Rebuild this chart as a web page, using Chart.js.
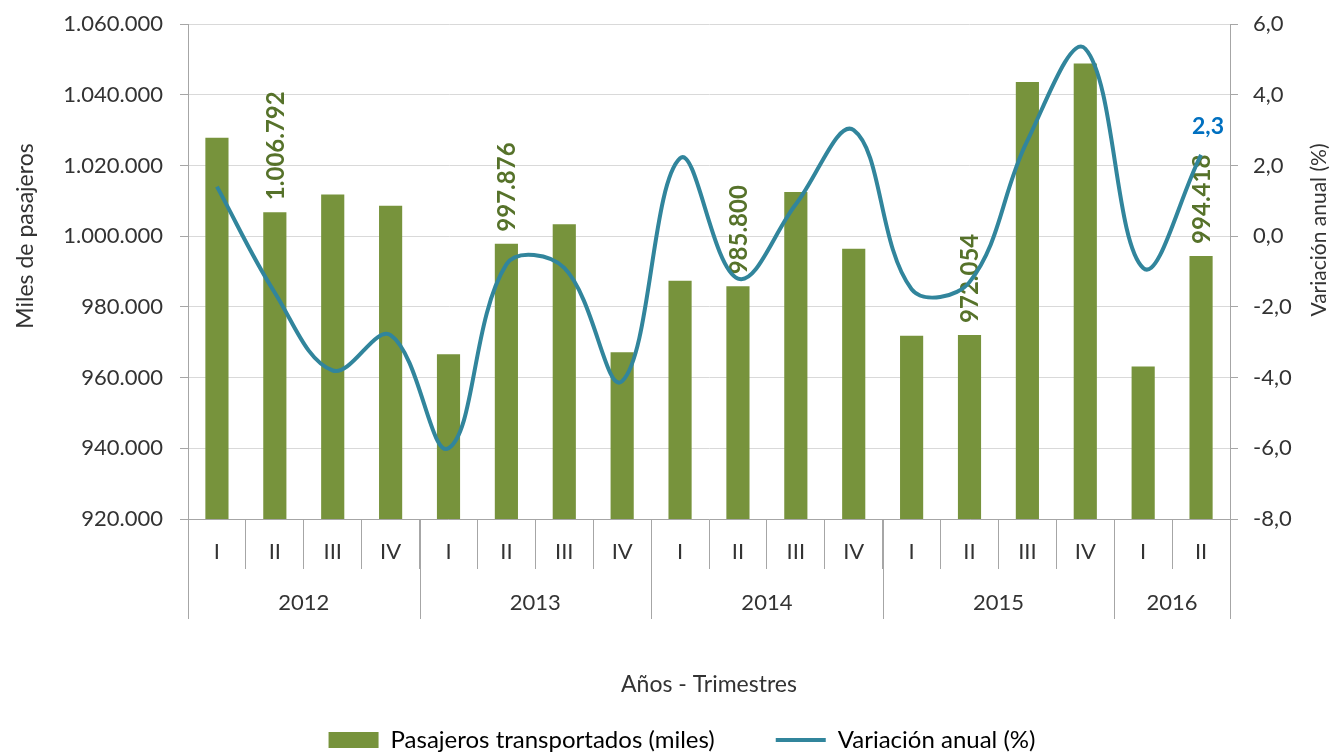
<!DOCTYPE html>
<html lang="es">
<head>
<meta charset="utf-8">
<title>Pasajeros transportados</title>
<script src="https://cdn.jsdelivr.net/npm/chart.js@4.4.1/dist/chart.umd.min.js"></script>
<style>
    html, body { margin: 0; padding: 0; background: #fff; overflow: hidden; }
    #wrap { width: 1330px; height: 753px; overflow: hidden; }
    canvas { display: block; }
</style>
</head>
<body>
<div id="wrap"><canvas id="pasajeros_chart" width="1364" height="762"></canvas></div>
<script>
/* =========================
   Data
========================= */
const quarters = ['I', 'II', 'III', 'IV', 'I', 'II', 'III', 'IV', 'I', 'II', 'III', 'IV', 'I', 'II', 'III', 'IV', 'I', 'II'];
const years = ['2012', '2012', '2012', '2012', '2013', '2013', '2013', '2013', '2014', '2014', '2014', '2014', '2015', '2015', '2015', '2015', '2016', '2016'];

const pasajeros = [1027800, 1006792, 1011800, 1008600, 966600, 997876, 1003350, 967150, 987400, 985800, 1012500, 996450, 971800, 972054, 1043600, 1048800, 963100, 994418];
const variacion = [1.4, -1.6, -3.8, -2.8, -6.0, -0.8, -0.9, -4.1, 2.2, -1.2, 0.9, 3.0, -1.5, -1.3, 2.7, 5.3, -0.9, 2.3];

const leftTicks = [920000, 1060000, 20000];   // min, max, step
const rightTicks = [-8, 6, 2];

const labeledBars = [1, 5, 9, 13, 17];
const labeledPoints = [17];

const seriesNames = ['Pasajeros transportados (miles)', 'Variación anual (%)'];


/* =========================
   Style
========================= */
const fontFamily = 'Lato, "Liberation Sans", sans-serif';
const barColor = '#77933c';
const barLabelColor = '#56722a';
const lineColor = '#31859c';
const pointLabelColor = '#0070c0';
const textColor = '#333333';
const gridColor = '#d9d9d9';
const axisColor = '#a6a6a6';

Chart.defaults.font.family = fontFamily;
Chart.defaults.font.size = 22;
Chart.defaults.color = textColor;

function fmtMiles(v) {
    return Math.round(v).toString().replace(/\B(?=(\d{3})+(?!\d))/g, '.');
}

function fmtPct(v) {
    return v.toFixed(1).replace('.', ',');
}

// fixed side width, no extra top/bottom room for the tick labels
function fixWidth(w) {
    return scale => {
        scale.width = w;
        scale.paddingTop = 0;
        scale.paddingBottom = 0;
    };
}


/* =========================
   Extra drawing (labels, year groups, side titles)
========================= */
const extras = {
    id: 'extras',

    afterDatasetDraw(chart, args) {
        if (args.index !== 0) {
            return;
        }
        const ctx = chart.ctx;
        ctx.save();
        ctx.font = 'bold 24px ' + fontFamily;
        ctx.fillStyle = barLabelColor;
        ctx.textAlign = 'left';
        ctx.textBaseline = 'middle';
        labeledBars.forEach(i => {
            const bar = args.meta.data[i];
            ctx.save();
            ctx.translate(bar.x + 1, bar.y - 12);
            ctx.rotate(-Math.PI / 2);
            ctx.fillText(fmtMiles(pasajeros[i]), 0, 0);
            ctx.restore();
        });
        ctx.restore();
    },

    afterDatasetsDraw(chart) {
        const ctx = chart.ctx;
        const meta = chart.getDatasetMeta(1);
        ctx.save();
        ctx.font = 'bold 23px ' + fontFamily;
        ctx.fillStyle = pointLabelColor;
        ctx.textAlign = 'center';
        ctx.textBaseline = 'middle';
        labeledPoints.forEach(i => {
            const pt = meta.data[i];
            ctx.fillText(fmtPct(variacion[i]), pt.x + 7, pt.y - 28);
        });
        ctx.restore();
    },

    afterDraw(chart) {
        const ctx = chart.ctx;
        const xs = chart.scales.x;
        const area = chart.chartArea;
        const step = (xs.right - xs.left) / quarters.length;

        ctx.save();
        ctx.strokeStyle = axisColor;
        ctx.lineWidth = 1;
        ctx.fillStyle = textColor;
        ctx.font = '22px ' + fontFamily;
        ctx.textAlign = 'center';
        ctx.textBaseline = 'middle';

        // year groups
        let start = 0;
        for (let i = 1; i <= years.length; i++) {
            if (i === years.length || years[i] !== years[start]) {
                const x0 = xs.left + start * step;
                const x1 = xs.left + i * step;
                [x0, x1].forEach(x => {
                    const px = Math.round(x) + 0.5;
                    ctx.beginPath();
                    ctx.moveTo(px, area.bottom);
                    ctx.lineTo(px, 619);
                    ctx.stroke();
                });
                ctx.fillText(years[start], (x0 + x1) / 2, 603);
                start = i;
            }
        }

        // vertical titles
        ctx.font = '23px ' + fontFamily;
        ctx.save();
        ctx.translate(26, 236);
        ctx.rotate(-Math.PI / 2);
        ctx.fillText('Miles de pasajeros', 0, 0);
        ctx.restore();

        ctx.font = '21px ' + fontFamily;
        ctx.save();
        ctx.translate(1319, 230);
        ctx.rotate(-Math.PI / 2);
        ctx.fillText(seriesNames[1], 0, 0);
        ctx.restore();

        ctx.restore();
    }
};


/* =========================
   Chart
========================= */
const ctx = document.getElementById('pasajeros_chart').getContext('2d');

const pasajerosChart = new Chart(ctx, {
    data: {
        labels: quarters,
        datasets: [
            {
                type: 'bar',
                label: seriesNames[0],
                data: pasajeros,
                backgroundColor: barColor,
                borderWidth: 0,
                barPercentage: 0.4,
                categoryPercentage: 1,
                yAxisID: 'y',
                order: 1
            },
            {
                type: 'line',
                label: seriesNames[1],
                data: variacion,
                borderColor: lineColor,
                borderWidth: 4,
                pointRadius: 0,
                tension: 0.38,
                fill: false,
                yAxisID: 'y1',
                order: 0
            }
        ]
    },
    options: {
        responsive: false,
        animation: false,
        devicePixelRatio: 1,
        layout: {
            padding: { top: 24, left: 0, right: 0, bottom: 0 }
        },
        plugins: {
            tooltip: { enabled: false },
            legend: {
                position: 'bottom',
                labels: {
                    usePointStyle: true,
                    pointStyleWidth: 50,
                    boxHeight: 16,
                    padding: 61,
                    color: textColor,
                    font: { size: 24 },
                    generateLabels: chart => chart.data.datasets.map((ds, i) => ({
                        text: ds.label,
                        fillStyle: ds.type === 'bar' ? ds.backgroundColor : ds.borderColor,
                        strokeStyle: ds.type === 'bar' ? ds.backgroundColor : ds.borderColor,
                        lineWidth: ds.type === 'bar' ? 0 : 4,
                        pointStyle: ds.type === 'bar' ? 'rect' : 'line',
                        hidden: false,
                        datasetIndex: i
                    }))
                }
            }
        },
        scales: {
            x: {
                offset: true,
                grid: {
                    offset: true,
                    drawOnChartArea: false,
                    color: axisColor,
                    tickColor: axisColor,
                    tickLength: 50
                },
                border: { color: axisColor },
                ticks: {
                    padding: -30,
                    maxRotation: 0,
                    autoSkip: false,
                    font: { size: 22 }
                },
                title: {
                    display: true,
                    text: 'Años - Trimestres',
                    font: { size: 23 },
                    padding: { top: 0, bottom: -31 }
                },
                afterFit: scale => { scale.height = 148; }
            },
            y: {
                position: 'left',
                min: leftTicks[0],
                max: leftTicks[1],
                ticks: {
                    stepSize: leftTicks[2],
                    padding: 17,
                    callback: v => fmtMiles(v)
                },
                grid: {
                    color: gridColor,
                    tickColor: axisColor,
                    tickLength: 8
                },
                border: { color: axisColor },
                afterFit: fixWidth(188)
            },
            y1: {
                position: 'right',
                min: rightTicks[0],
                max: rightTicks[1],
                ticks: {
                    stepSize: rightTicks[2],
                    padding: 15,
                    callback: v => fmtPct(v)
                },
                grid: {
                    drawOnChartArea: false,
                    tickColor: axisColor,
                    tickLength: 8
                },
                border: { color: axisColor },
                afterFit: fixWidth(134)
            }
        }
    },
    plugins: [extras]
});
</script>
</body>
</html>
